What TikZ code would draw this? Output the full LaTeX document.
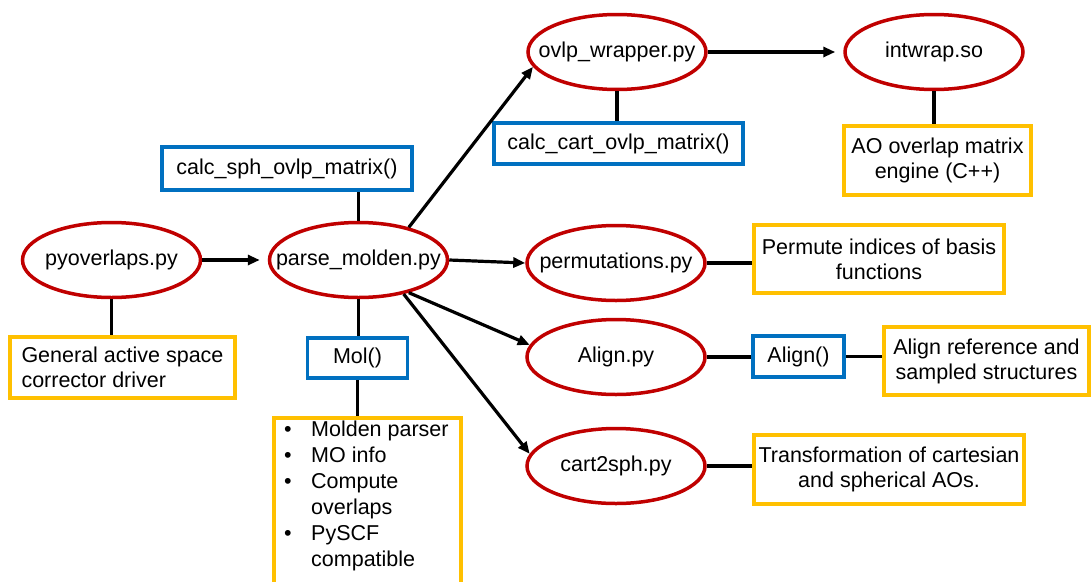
\documentclass[tikz,border=0pt]{standalone}
\usepackage{fontspec}
\setmainfont{Liberation Sans}
\usetikzlibrary{shapes.geometric,arrows.meta}
\definecolor{mred}{HTML}{C00000}
\definecolor{mblue}{HTML}{0070C0}
\definecolor{mgold}{HTML}{FFC000}
\newcommand\zw[1]{\makebox[0pt]{#1}}
\begin{document}
\begin{tikzpicture}[x=1pt,y=-1pt,
  font=\fontsize{21.5}{25}\selectfont,
  modnode/.style={ellipse, draw=mred, line width=3.5pt, minimum width=178pt, minimum height=75pt, inner sep=0pt, fill=white},
  fnbox/.style={rectangle, draw=mblue, line width=3.5pt, inner sep=0pt, fill=white},
  infobox/.style={rectangle, draw=mgold, line width=3.5pt, inner sep=0pt, fill=white, align=center},
  link/.style={line width=3.2pt},
  arr/.style={line width=3.2pt, -{Triangle[length=12pt,width=10pt]}}]
\clip (0,0) rectangle (1091,581);
\useasboundingbox (0,0) rectangle (1091,581);
% modules
\node[modnode] (py) at (111.5,260) {\zw{pyoverlaps.py}};
\node[modnode] (parse) at (358.5,260) {\zw{parse\_molden.py}};
\node[modnode] (ovlp) at (617,52) {\zw{ovlp\_wrapper.py}};
\node[modnode] (intw) at (934,52) {\zw{intwrap.so}};
\node[modnode] (perm) at (616,263) {\zw{permutations.py}};
\node[modnode] (align) at (616,357) {\zw{Align.py}};
\node[modnode] (c2s) at (616,466) {\zw{cart2sph.py}};
% function boxes
\node[fnbox, minimum width=250pt, minimum height=43pt] (sph) at (287,168.5) {calc\_sph\_ovlp\_matrix()};
\node[fnbox, minimum width=100pt, minimum height=40pt] (mol) at (357.5,358) {Mol()};
\node[fnbox, minimum width=249pt, minimum height=41pt] (cart) at (618.5,143.5) {calc\_cart\_ovlp\_matrix()};
\node[fnbox, minimum width=91pt, minimum height=41pt] (alignf) at (798.5,356.5) {Align()};
% info boxes
\node[infobox, align=left, minimum width=225pt, minimum height=61pt] (gen) at (122.5,367.5) {General active space\\corrector driver};
\node[infobox, minimum width=187pt, minimum height=69pt] (ao) at (937.5,160.5) {AO overlap matrix\\engine (C++)};
\node[infobox, minimum width=250pt, minimum height=68pt] (pbox) at (879,259) {Permute indices of basis\\functions};
\node[infobox, minimum width=205pt, minimum height=68pt] (aref) at (986.5,361) {Align reference and\\sampled structures};
\node[infobox, minimum width=270pt, minimum height=69pt] (tbox) at (889,469.5) {Transformation of cartesian\\and spherical AOs.};
\node[infobox, minimum width=187pt, minimum height=182pt] (molbox) at (367.5,509) {};
\node[anchor=north west, inner sep=0pt, align=left] (molinfo) at (284,418) {\fontsize{21.5}{26}\selectfont
  \begin{tabular}{@{}p{27pt}@{}l@{}}
  \textbullet & Molden parser\\
  \textbullet & MO info\\
  \textbullet & Compute\\
   & overlaps\\
  \textbullet & PySCF\\
   & compatible
  \end{tabular}};
% plain links
\draw[link] (py.south) -- (py.south |- gen.north);
\draw[link] (parse.north) -- (parse.north |- sph.south);
\draw[link] (parse.south) -- (parse.south |- mol.north);
\draw[link] (mol.south) -- (mol.south |- molbox.north);
\draw[link] (ovlp.south) -- (ovlp.south |- cart.north);
\draw[link] (intw.south) -- (intw.south |- ao.north);
\draw[link] (perm.east) -- (perm.east -| pbox.west);
\draw[link] (align.east) -- (align.east -| alignf.west);
\draw[link] (alignf.east) -- (alignf.east -| aref.west);
\draw[link] (c2s.east) -- (c2s.east -| tbox.west);
% arrows
\draw[arr, shorten >=8pt] (py.east) -- (parse.west);
\draw[arr] (parse.33) -- (ovlp.190);
\draw[arr] (parse.east) -- (perm.west);
\draw[arr] (parse.-33) -- (align.172);
\draw[arr] (parse.-37) -- (c2s.172);
\draw[arr, shorten >=8pt] (ovlp.east) -- (intw.west);
\end{tikzpicture}
\end{document}
